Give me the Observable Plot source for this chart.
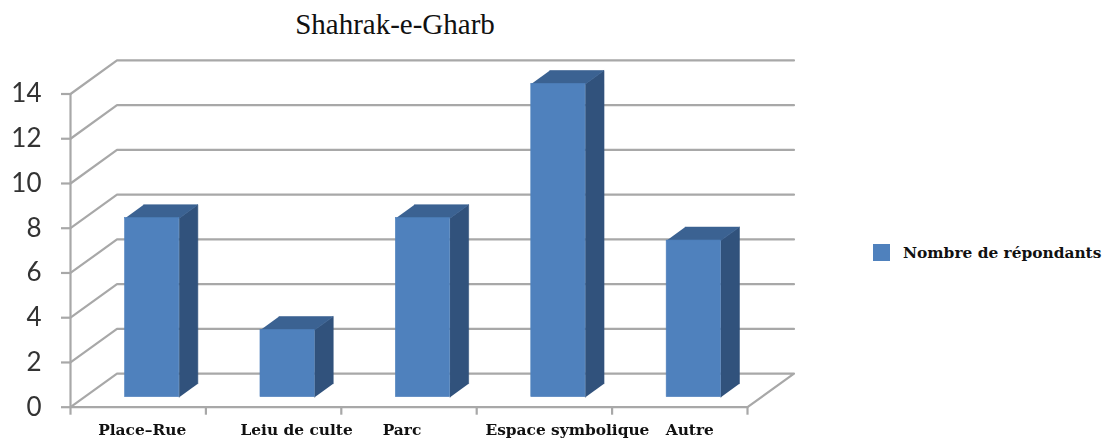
<!DOCTYPE html>
<html>
<head>
<meta charset="utf-8">
<script src="https://cdn.jsdelivr.net/npm/d3@7"></script>
<script src="https://cdn.jsdelivr.net/npm/@observablehq/plot@0.6"></script>
<style>
  html, body { margin: 0; padding: 0; background: #fff; }
  #chart { position: relative; width: 1104px; height: 438px; overflow: hidden; }
  #chart svg { display: block; filter: blur(0.45px); }
  #title { position: absolute; left: 245px; width: 300px; top: 8px; text-align: center;
           font: 29px "Liberation Serif", serif; color: #111; white-space: nowrap; }
  #legend { position: absolute; left: 873px; top: 244px; height: 17px; display: flex; align-items: center;
            font: bold 15.4px "DejaVu Serif", serif; color: #111; white-space: nowrap; }
  #legend i { display: block; width: 17px; height: 17px; background: #4f81bd; margin-right: 13px; }
</style>
</head>
<body>
<div id="chart">
  <div id="title">Shahrak-e-Gharb</div>
  <div id="legend"><i></i><span>Nombre de répondants</span></div>
</div>
<script>
const categories = ["Place–Rue", "Leiu de culte", "Parc", "Espace symbolique", "Autre"];
const values = [8, 3, 8, 14, 7];
const yTicks = [0, 2, 4, 6, 8, 10, 12, 14];
const slotTicks = [0, 1, 2, 3, 4, 5];
const labelShift = [4, 23, -7, 23, 10];

const gridColor = "#a8a8a8";
const frontColor = "#4f81bd";
const sideColor = "#31527c";
const topColor = "#3b6292";

// oblique projection: depth 0 = front of the floor, depth 1 = back wall
const px = (x, d) => x + d * 0.3434;
const py = (v, d) => v + d * 1.5;
const near = 0.3, far = 0.7, left = 0.3, right = 0.7;

const wall = yTicks.filter(v => v > 0).flatMap(v => [
  {k: v, x: px(0, 0), y: py(v, 0)},
  {k: v, x: px(0, 1), y: py(v, 1)},
  {k: v, x: px(5, 1), y: py(v, 1)}
]);
const floor = [[0, 0], [0, 1], [5, 1], [5, 0], [0, 0]].map(([x, d]) => ({x: px(x, d), y: py(0, d)}));

const bars = values.map((v, i) => ({i, v}));
const sideFaces = bars.flatMap(({i, v}) => [[0, near], [v, near], [v, far], [0, far]].map(([h, d]) => ({
  k: i, x: px(i + right, d), y: py(h, d)
})));
const topFaces = bars.flatMap(({i, v}) => [[left, near], [right, near], [right, far], [left, far]].map(([a, d]) => ({
  k: i, x: px(i + a, d), y: py(v, d)
})));

const lineStyle = {stroke: gridColor, strokeWidth: 2.2};

const plot = Plot.plot({
  width: 1104,
  height: 438,
  marginLeft: 70,
  marginRight: 357,
  marginTop: 93.5,
  marginBottom: 31.3,
  x: {type: "linear", domain: [0, 5]},
  y: {type: "linear", domain: [0, 14]},
  marks: [
    Plot.line(wall, {x: "x", y: "y", z: "k", ...lineStyle}),
    Plot.line(floor, {x: "x", y: "y", ...lineStyle}),
    Plot.ruleX([0], {y1: 0, y2: 14, ...lineStyle}),
    Plot.axisY({ticks: yTicks, tickSize: 9, tickPadding: 20, label: null, stroke: gridColor, fill: "#333",
                fontSize: 26, strokeWidth: 2.2, fontFamily: "Lato"}),
    Plot.axisX({ticks: slotTicks, tickSize: 8, tickFormat: () => "", label: null, stroke: gridColor, strokeWidth: 2.2}),
    Plot.line(sideFaces, {x: "x", y: "y", z: "k", fill: sideColor, stroke: sideColor, strokeWidth: 0.6}),
    Plot.line(topFaces, {x: "x", y: "y", z: "k", fill: topColor, stroke: topColor, strokeWidth: 0.6}),
    Plot.rect(bars, {
      x1: d => px(d.i + left, near), x2: d => px(d.i + right, near),
      y1: () => py(0, near), y2: d => py(d.v, near),
      fill: frontColor, stroke: frontColor, strokeWidth: 0.6
    }),
    ...categories.map((c, i) => Plot.text([c], {
      x: () => i + 0.5, y: () => 0, text: d => d, dx: labelShift[i], dy: 22.5,
      fontFamily: "DejaVu Serif", fontWeight: "bold", fontSize: 15.4, fill: "#111"
    }))
  ]
});
document.getElementById("chart").prepend(plot);
</script>
</body>
</html>
